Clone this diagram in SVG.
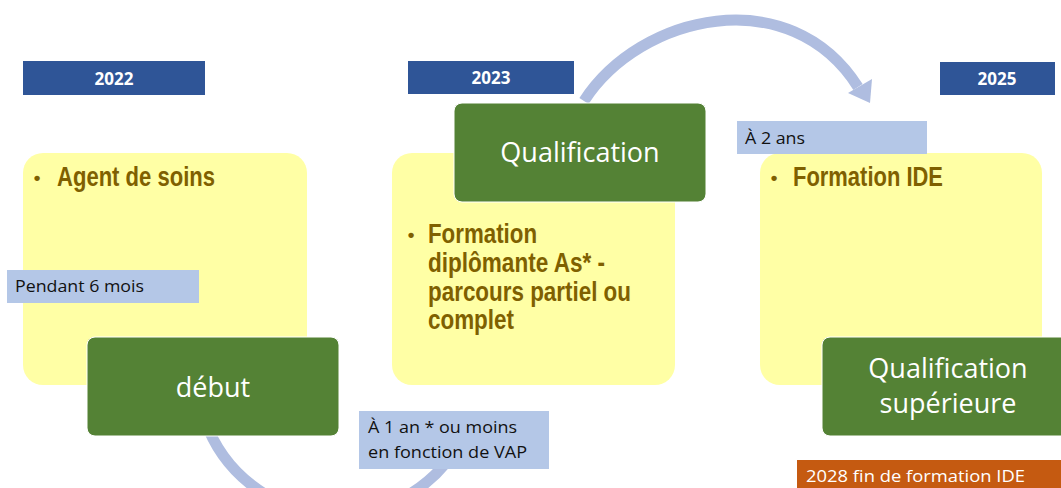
<svg xmlns="http://www.w3.org/2000/svg" width="1061" height="488" viewBox="0 0 1061 488">
<style>
.hdr{fill:#2F5597}
.hdrt{font-family:"Open Sans",sans-serif;font-weight:bold;font-size:17px;fill:#fff;text-anchor:middle}
.yel{fill:#FFFFA5}
.yt{font-family:"Liberation Sans",Arial,sans-serif;font-weight:bold;font-size:27px;fill:#7F6000}
.bul{font-family:"Liberation Sans",Arial,sans-serif;font-weight:bold;font-size:19px;fill:#7F6000;text-anchor:middle}
.grn{fill:#548235;stroke:#fff;stroke-width:1}
.gt{font-family:"Open Sans",sans-serif;font-size:27px;fill:#fff;text-anchor:middle}
.lbl{fill:#B4C7E7}
.lt{font-family:"Open Sans",sans-serif;font-size:16px;fill:#111}
.arc{fill:none;stroke:#AFBDE0;stroke-width:11}
</style>
<rect width="1061" height="488" fill="#fff"/>
<g id="connectors">
<path class="arc" d="M584,101 C640,14 790,-20 858,87"/>
<polygon points="870,103 848,93 872,79" fill="#AFBDE0"/>
<path class="arc" d="M205,420 A140 140 0 0 0 462,438"/>
</g>
<g id="year-2022"><rect class="hdr" x="23" y="61" width="182" height="34"/><text class="hdrt" x="114" y="85">2022</text></g>
<g id="year-2023"><rect class="hdr" x="408" y="61" width="166" height="33"/><text class="hdrt" x="491" y="84">2023</text></g>
<g id="year-2025"><rect class="hdr" x="940" y="62" width="115" height="33"/><text class="hdrt" x="997" y="85">2025</text></g>
<g id="box-agent"><rect class="yel" x="23" y="153" width="284" height="232" rx="20"/>
<text class="bul" x="37" y="184">•</text>
<text class="yt" x="57" y="186" textLength="158" lengthAdjust="spacingAndGlyphs">Agent de soins</text></g>
<g id="box-formation-as"><rect class="yel" x="392" y="153" width="283" height="232" rx="20"/>
<text class="bul" x="411" y="241">•</text>
<text class="yt" x="428" y="243" textLength="109" lengthAdjust="spacingAndGlyphs">Formation</text>
<text class="yt" x="428" y="272" textLength="177" lengthAdjust="spacingAndGlyphs">diplômante As* -</text>
<text class="yt" x="428" y="301" textLength="203" lengthAdjust="spacingAndGlyphs">parcours partiel ou</text>
<text class="yt" x="428" y="329" textLength="86" lengthAdjust="spacingAndGlyphs">complet</text></g>
<g id="box-formation-ide"><rect class="yel" x="760" y="153" width="282" height="232" rx="20"/>
<text class="bul" x="774" y="184">•</text>
<text class="yt" x="793" y="186" textLength="150" lengthAdjust="spacingAndGlyphs">Formation IDE</text></g>
<g id="label-pendant"><rect class="lbl" x="7" y="270" width="192" height="33"/><text class="lt" x="15" y="292" textLength="129" lengthAdjust="spacingAndGlyphs">Pendant 6 mois</text></g>
<g id="node-debut"><rect class="grn" x="87" y="337" width="252" height="99" rx="8"/><text class="gt" x="213" y="397">début</text></g>
<g id="node-qualification"><rect class="grn" x="454" y="103" width="252" height="99" rx="8"/><text class="gt" x="580" y="162">Qualification</text></g>
<g id="node-qualif-sup"><rect class="grn" x="822" y="337" width="252" height="99" rx="8"/><text class="gt" x="948" y="378">Qualification</text><text class="gt" x="948" y="413">supérieure</text></g>
<g id="label-2ans"><rect class="lbl" x="737" y="121" width="190" height="33"/><text class="lt" x="745" y="144" textLength="60" lengthAdjust="spacingAndGlyphs">À 2 ans</text></g>
<g id="label-1an"><rect class="lbl" x="359" y="411" width="190" height="58"/><text class="lt" x="368" y="433" textLength="149" lengthAdjust="spacingAndGlyphs">À 1 an * ou moins</text><text class="lt" x="368" y="458" textLength="159" lengthAdjust="spacingAndGlyphs">en fonction de VAP</text></g>
<g id="label-2028"><rect x="797" y="460" width="270" height="30" fill="#C55A11"/><text class="lt" x="806" y="482" style="fill:#fff" textLength="219" lengthAdjust="spacingAndGlyphs">2028 fin de formation  IDE</text></g>
</svg>
